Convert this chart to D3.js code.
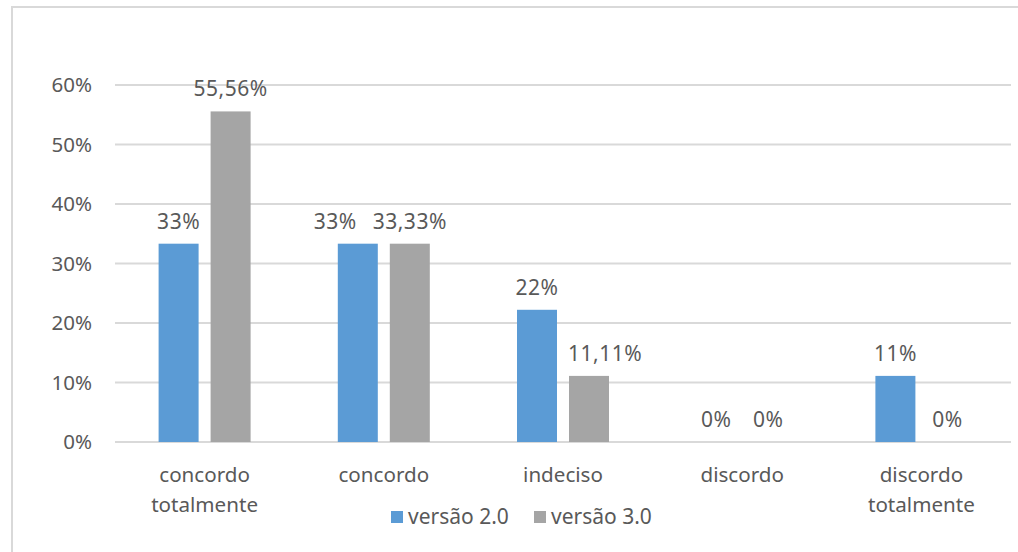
<!DOCTYPE html>
<html lang="pt">
<head>
<meta charset="UTF-8">
<title>versão 2.0 x versão 3.0</title>
<script src="https://cdn.jsdelivr.net/npm/d3@7"></script>
<style>
  body { margin: 0; background: #fff; }
  text { font-family: "Noto Sans", sans-serif; fill: #595959; }
</style>
</head>
<body>
<div id="chart"></div>
<script>
// Data
const categories = ["concordo totalmente", "concordo", "indeciso", "discordo", "discordo totalmente"];
const series = ["versão 2.0", "versão 3.0"];
const v2 = [33.33, 33.33, 22.22, 0, 11.11];
const v3 = [55.56, 33.33, 11.11, 0, 0];
const v2Labels = ["33%", "33%", "22%", "0%", "11%"];
const v3Labels = ["55,56%", "33,33%", "11,11%", "0%", "0%"];
const yTicks = [0, 10, 20, 30, 40, 50, 60];
const colors = ["#5b9bd5", "#a5a5a5"];

const width = 1018, height = 552;

const svg = d3.select("#chart")
  .append("svg")
    .attr("width", width)
    .attr("height", height);

// chart frame (only top and left edges are in view)
svg.append("rect")
  .attr("x", 12).attr("y", 7)
  .attr("width", 1030).attr("height", 560)
  .attr("fill", "none")
  .attr("stroke", "#d9d9d9")
  .attr("stroke-width", 2);

const x = d3.scaleBand()
  .domain(categories)
  .range([115, 1011]);

const groupW = 92;
const x1 = d3.scaleBand()
  .domain(series)
  .range([0, groupW])
  .paddingInner(0.2308);

const y = d3.scaleLinear()
  .domain([0, 60])
  .range([442, 85]);

// gridlines
svg.append("g")
  .selectAll("line")
  .data(yTicks)
  .join("line")
    .attr("x1", 115).attr("x2", 1011)
    .attr("y1", d => y(d)).attr("y2", d => y(d))
    .attr("stroke", "#d9d9d9")
    .attr("stroke-width", 2);

// y axis labels
const yAxis = d3.axisLeft(y)
  .tickValues(yTicks)
  .tickFormat(d => d + "%")
  .tickSize(0)
  .tickPadding(0);

svg.append("g")
  .attr("transform", "translate(92,0)")
  .call(yAxis)
  .call(g => g.select(".domain").remove())
  .selectAll("text")
    .attr("fill", "#595959")
    .style("font-family", "Noto Sans, sans-serif")
    .style("font-size", "20.5px");

// bars
const rows = categories.map((c, i) => ({
  cat: c,
  vals: [
    {s: series[0], v: v2[i], label: v2Labels[i], color: colors[0]},
    {s: series[1], v: v3[i], label: v3Labels[i], color: colors[1]}
  ]
}));

const groups = svg.append("g")
  .selectAll("g")
  .data(rows)
  .join("g")
    .attr("transform", d => `translate(${x(d.cat) + x.bandwidth() / 2 - groupW / 2},0)`);

groups.selectAll("rect")
  .data(d => d.vals)
  .join("rect")
    .attr("x", d => x1(d.s))
    .attr("width", x1.bandwidth())
    .attr("y", d => y(d.v))
    .attr("height", d => y(0) - y(d.v))
    .attr("fill", d => d.color);

groups.selectAll("text.lbl")
  .data(d => d.vals)
  .join("text")
    .attr("class", "lbl")
    .attr("x", d => x1(d.s) + x1.bandwidth() / 2)
    .attr("y", d => y(d.v) - 15)
    .attr("text-anchor", "middle")
    .style("font-size", "21px")
    .style("letter-spacing", "0.5px")
    .text(d => d.label);

// like Excel: move labels that would collide with each other or with the blue bar
groups.each(function() {
  const g = d3.select(this);
  const lbls = g.selectAll("text.lbl").nodes();
  const blue = g.select("rect").node().getBBox();
  const a = lbls[0].getBBox(), b = lbls[1].getBBox();
  // right label running into the taller left bar -> push right
  if (b.y + b.height > blue.y && b.x < blue.x + blue.width + 11) {
    const shift = blue.x + blue.width + 11 - b.x;
    d3.select(lbls[1]).attr("x", +d3.select(lbls[1]).attr("x") + shift);
    return;
  }
  // two labels on the same row overlapping -> push left one left
  const sameRow = Math.abs(a.y - b.y) < a.height;
  if (sameRow && a.x + a.width + 16 > b.x) {
    const shift = a.x + a.width + 16 - b.x;
    d3.select(lbls[0]).attr("x", +d3.select(lbls[0]).attr("x") - shift);
  }
});

// category labels
const catText = svg.append("g")
  .selectAll("text")
  .data(categories)
  .join("text")
    .attr("x", d => x(d) + x.bandwidth() / 2)
    .attr("y", 482)
    .attr("text-anchor", "middle")
    .style("font-size", "20.6px");

catText.selectAll("tspan")
  .data(d => d.split(" "))
  .join("tspan")
    .attr("x", function() { return d3.select(this.parentNode).attr("x"); })
    .attr("dy", (d, i) => i === 0 ? 0 : 30)
    .text(d => d);

// legend
const legendX = [391, 534];
const legend = svg.append("g")
  .selectAll("g")
  .data(series)
  .join("g")
    .attr("transform", (d, i) => `translate(${legendX[i]},511)`);

legend.append("rect")
  .attr("width", 12).attr("height", 12)
  .attr("fill", (d, i) => colors[i]);

legend.append("text")
  .attr("x", 17)
  .attr("y", 13)
  .style("font-size", "21px")
  .text(d => d);
</script>
</body>
</html>
